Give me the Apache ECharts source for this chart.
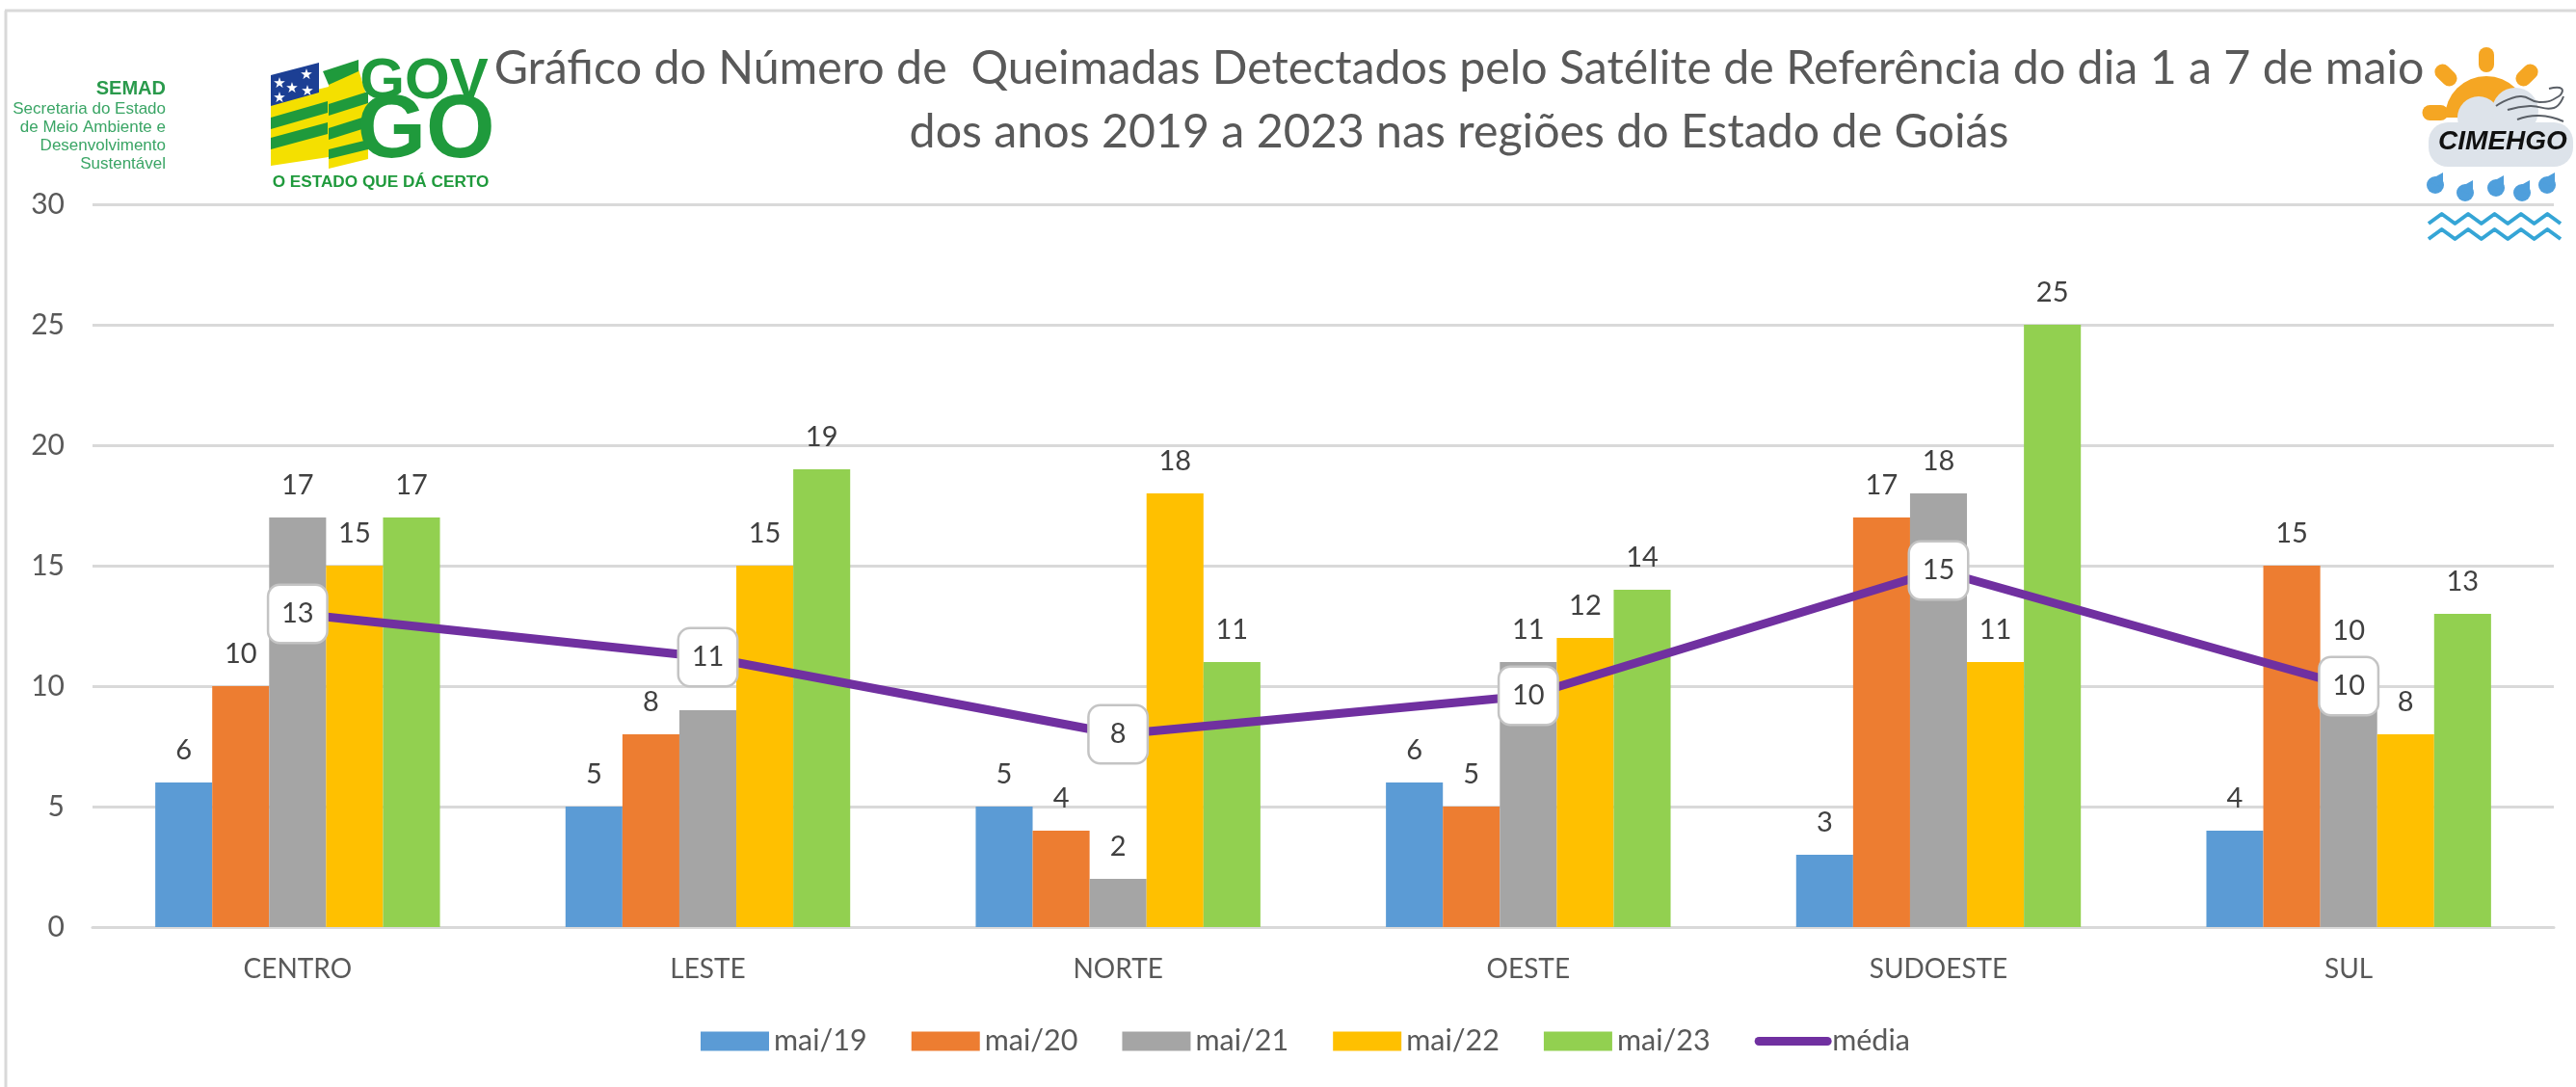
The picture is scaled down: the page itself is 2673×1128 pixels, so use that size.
<!DOCTYPE html>
<html lang="pt-BR">
<head>
<meta charset="utf-8">
<title>Queimadas Goiás</title>
<script src="https://cdn.jsdelivr.net/npm/echarts@6/dist/echarts.min.js"></script>
<style>
  html, body { margin: 0; padding: 0; background: #fff; }
  #chart { width: 2673px; height: 1128px; }
</style>
</head>
<body>
<div id="chart"></div>
<script>
var regioes = ['CENTRO', 'LESTE', 'NORTE', 'OESTE', 'SUDOESTE', 'SUL'];
var mai19 = [6, 5, 5, 6, 3, 4];
var mai20 = [10, 8, 4, 5, 17, 15];
var mai21 = [17, 9, 2, 11, 18, 10];
var mai22 = [15, 15, 18, 12, 11, 8];
var mai23 = [17, 19, 11, 14, 25, 13];
var media = [13, 11.2, 8, 9.6, 14.8, 10];
var titulo = 'Gráfico do Número de  Queimadas Detectados pelo Satélite de Referência do dia 1 a 7 de maio\ndos anos 2019 a 2023 nas regiões do Estado de Goiás';

var fonte = 'Lato, "Open Sans", sans-serif';
var verde = '#1f9a3c';
var amarelo = '#f4e000';

function barra(nome, dados, cor) {
  return {
    name: nome,
    type: 'bar',
    data: dados,
    barGap: 0,
    barCategoryGap: '30.6%',
    itemStyle: { color: cor },
    label: { show: true, position: 'top', distance: 19, fontSize: 29, fontFamily: fonte, color: '#404040' }
  };
}

// no original o rotulo 9 (LESTE) fica escondido e o 10 (SUL) foi movido para cima da caixa
var mai21Itens = mai21.map(function (v, i) {
  if (regioes[i] == 'LESTE') return { value: v, label: { show: false } };
  if (regioes[i] == 'SUL') return { value: v, label: { offset: [0, -24] } };
  return v;
});

// logos do cabecalho, desenhados a mao
function poly(pts, cor) {
  return { type: 'polygon', shape: { points: pts }, style: { fill: cor }, z: 20 };
}
function texto(x, y, t, tam, cor, alinha, peso, estilo, fam) {
  return {
    type: 'text', x: x, y: y, z: 21,
    style: {
      text: t, fontSize: tam, fill: cor, align: alinha, verticalAlign: 'middle',
      fontWeight: peso || 'normal', fontStyle: estilo || 'normal',
      fontFamily: fam || '"Liberation Sans", sans-serif'
    }
  };
}
function raio(x, y, w, h, rot) {
  return {
    type: 'rect', x: x, y: y, rotation: rot, z: 20,
    shape: { x: -w / 2, y: -h / 2, width: w, height: h, r: Math.min(w, h) / 2 },
    style: { fill: '#f5a623' }
  };
}
function gota(x, y) {
  return [
    { type: 'circle', shape: { cx: x, cy: y, r: 9 }, style: { fill: '#4f9fdc' }, z: 20 },
    poly([[x - 8, y - 4], [x + 8, y - 13], [x + 8, y + 3]], '#4f9fdc')
  ];
}
function onda(y) {
  var pts = [], x = 2520, i;
  for (i = 0; i <= 10; i++) {
    pts.push([x + i * 13.7, y + (i % 2 ? -5 : 5)]);
  }
  return { type: 'polyline', shape: { points: pts }, style: { stroke: '#35a5d6', lineWidth: 4, fill: null, lineJoin: 'round' }, z: 20 };
}
function vento(pts) {
  return { type: 'polyline', shape: { points: pts, smooth: 0.5 }, style: { stroke: '#5a5f66', lineWidth: 2, fill: null }, z: 21 };
}
function estrela(x, y) {
  return texto(x, y, '★', 15, '#fff', 'center', 'normal', 'normal', '"DejaVu Sans", sans-serif');
}

var logos = [
  // moldura
  { type: 'line', shape: { x1: 5, y1: 11, x2: 2673, y2: 11 }, style: { stroke: '#d9d9d9', lineWidth: 3 } },
  { type: 'line', shape: { x1: 6, y1: 11, x2: 6, y2: 1128 }, style: { stroke: '#d9d9d9', lineWidth: 3 } },
  // SEMAD
  texto(172, 92, 'SEMAD', 20, '#2a9a4c', 'right', 'bold'),
  texto(172, 113, 'Secretaria do Estado', 17, '#3aa565', 'right'),
  texto(172, 132, 'de Meio Ambiente e', 17, '#3aa565', 'right'),
  texto(172, 151, 'Desenvolvimento', 17, '#3aa565', 'right'),
  texto(172, 170, 'Sustentável', 17, '#3aa565', 'right'),
  // bandeira
  poly([[281, 105], [341, 90], [341, 163], [281, 172]], amarelo),
  poly([[281, 78], [331, 65], [331, 96], [281, 110]], '#1c3f94'),
  estrela(290, 87), estrela(318, 78), estrela(303, 92), estrela(319, 95), estrela(290, 102),
  poly([[281, 122], [340, 105], [340, 117], [281, 134]], verde),
  poly([[281, 143], [340, 127], [340, 139], [281, 155]], verde),
  poly([[341, 82], [372, 72], [382, 105], [382, 165], [341, 175]], amarelo),
  poly([[335, 74], [372, 62], [372, 74], [341, 88]], verde),
  poly([[341, 108], [382, 95], [382, 107], [341, 120]], verde),
  poly([[341, 133], [382, 120], [382, 132], [341, 145]], verde),
  poly([[341, 155], [382, 145], [382, 155], [341, 165]], verde),
  texto(440, 85, 'GOV', 60, verde, 'center', 'bold'),
  texto(442, 138, 'GO', 92, verde, 'center', 'bold'),
  texto(395, 189, 'O ESTADO QUE DÁ CERTO', 17.2, verde, 'center', 'bold'),
  // CIMEHGO
  raio(2580, 62, 16, 26, 0),
  raio(2538, 78, 16, 26, 0.8),
  raio(2622, 78, 16, 26, -0.8),
  raio(2527, 117, 27, 16, 0),
  { type: 'sector', shape: { cx: 2580, cy: 122, r: 43, r0: 0, startAngle: Math.PI, endAngle: Math.PI * 2 }, style: { fill: '#f5a623' }, z: 20 },
  { type: 'circle', shape: { cx: 2572, cy: 122, r: 22 }, style: { fill: '#dde3ea' }, z: 20 },
  { type: 'circle', shape: { cx: 2610, cy: 115, r: 24 }, style: { fill: '#dde3ea' }, z: 20 },
  { type: 'rect', shape: { x: 2520, y: 127, width: 150, height: 46, r: 20 }, style: { fill: '#dde3ea' }, z: 20 },
  vento([[2590, 110], [2615, 100], [2635, 106], [2655, 100], [2658, 92], [2645, 92]]),
  vento([[2602, 114], [2625, 110], [2650, 112], [2660, 100]]),
  vento([[2612, 124], [2635, 120], [2660, 126]]),
  texto(2597, 147, 'CIMEHGO', 28, '#111', 'center', 'bold', 'italic'),
  onda(227),
  onda(243)
].concat(gota(2527, 192), gota(2558, 200), gota(2590, 195), gota(2617, 200), gota(2643, 192));

var chart = echarts.init(document.getElementById('chart'));
chart.setOption({
  animation: false,
  backgroundColor: '#fff',
  title: {
    text: titulo,
    left: 1509,
    top: 33,
    textAlign: 'center',
    textStyle: { fontSize: 48.3, lineHeight: 66, fontWeight: 'normal', fontFamily: fonte, color: '#595959' }
  },
  grid: { left: 96, right: 23, top: 212, bottom: 166 },
  legend: {
    left: 722,
    top: 1060,
    itemWidth: 71,
    itemHeight: 20,
    itemGap: 46,
    textStyle: { fontSize: 30.5, fontFamily: fonte, color: '#595959' },
    data: [
      { name: 'mai/19', icon: 'rect' },
      { name: 'mai/20', icon: 'rect' },
      { name: 'mai/21', icon: 'rect' },
      { name: 'mai/22', icon: 'rect' },
      { name: 'mai/23', icon: 'rect' },
      { name: 'média', itemStyle: { opacity: 0 }, lineStyle: { color: '#7030A0', width: 9, cap: 'round' } }
    ]
  },
  xAxis: {
    type: 'category',
    data: regioes,
    axisTick: { show: false },
    axisLine: { lineStyle: { color: '#d9d9d9', width: 3 } },
    axisLabel: { fontSize: 28, fontFamily: fonte, color: '#595959', margin: 30 }
  },
  yAxis: {
    type: 'value',
    min: 0,
    max: 30,
    interval: 5,
    axisLine: { show: false },
    axisTick: { show: false },
    axisLabel: { fontSize: 30, fontFamily: fonte, color: '#595959', margin: 29 },
    splitLine: { lineStyle: { color: '#d9d9d9', width: 3 } }
  },
  series: [
    barra('mai/19', mai19, '#5B9BD5'),
    barra('mai/20', mai20, '#ED7D31'),
    barra('mai/21', mai21Itens, '#A5A5A5'),
    barra('mai/22', mai22, '#FFC000'),
    barra('mai/23', mai23, '#92D050'),
    {
      name: 'média',
      type: 'line',
      data: media,
      symbol: 'circle',
      symbolSize: 1,
      lineStyle: { color: '#7030A0', width: 9, cap: 'round' },
      itemStyle: { color: '#7030A0' },
      z: 5,
      label: {
        show: true,
        position: 'inside',
        width: 59,
        height: 58,
        lineHeight: 58,
        align: 'center',
        verticalAlign: 'middle',
        fontSize: 29,
        fontFamily: fonte,
        color: '#404040',
        backgroundColor: '#fff',
        borderColor: '#c4c4c4',
        borderWidth: 2.5,
        borderRadius: 11,
        formatter: function (p) { return Math.round(p.value); }
      }
    }
  ],
  graphic: { elements: logos }
});
</script>
</body>
</html>
